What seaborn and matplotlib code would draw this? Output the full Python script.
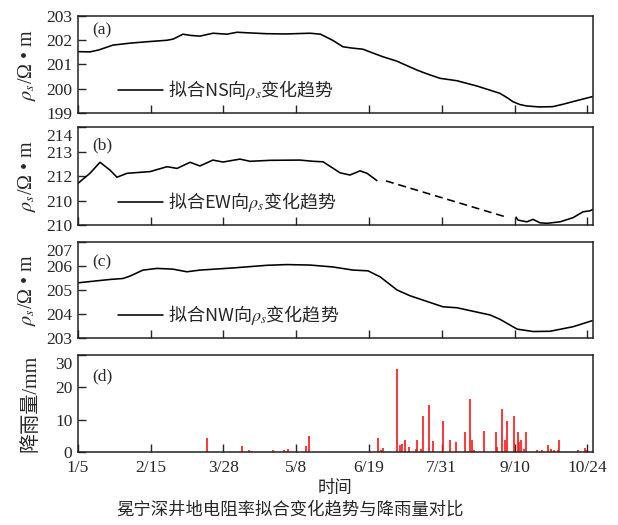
import matplotlib
matplotlib.use("Agg")
import matplotlib.pyplot as plt
from matplotlib.font_manager import FontProperties
from matplotlib.transforms import ScaledTranslation
import seaborn as sns

# x = days counted from 1/5; the figure spaces its date ticks 42 days apart
tick_days = [0, 42, 84, 126, 168, 210, 252, 294]
tick_labels = ["1/5", "2/15", "3/28", "5/8", "6/19", "7/31", "9/10", "10/24"]

# (a) NS
ns_days = [0, 6.9, 12, 20.2, 30, 40, 51.4, 55, 60.6, 65, 70.4, 77.9, 86, 91.8, 100, 109,
           120, 134, 140, 147, 153, 158, 164.5, 170, 176, 184, 190, 195.7, 202, 209,
           218.8, 230.4, 243.6, 248, 251, 255, 259, 266, 274, 280, 285.8, 297.3]
ns_vals = [201.53, 201.52, 201.6, 201.8, 201.88, 201.94, 202.0, 202.05, 202.25, 202.2,
           202.17, 202.29, 202.25, 202.33, 202.3, 202.27, 202.26, 202.29, 202.25, 202.0,
           201.73, 201.68, 201.63, 201.48, 201.32, 201.14, 200.95, 200.77, 200.6, 200.43,
           200.33, 200.11, 199.81, 199.62, 199.47, 199.35, 199.29, 199.25, 199.26, 199.36,
           199.47, 199.68]

# (b) EW, two measured stretches joined by a dashed gap
ew1_days = [0, 6.9, 12.7, 18.5, 22.5, 28.3, 41.6, 51.4, 57.2, 64.7, 70.4, 77.9, 83.7,
            93.5, 99.3, 110.9, 128.2, 135.7, 141.5, 151.3, 157, 162.8, 166.9, 172.6]
ew1_vals = [211.70, 212.11, 212.56, 212.24, 211.95, 212.11, 212.18, 212.38, 212.31,
            212.56, 212.41, 212.65, 212.57, 212.69, 212.6, 212.64, 212.65, 212.6, 212.58,
            212.13, 212.04, 212.21, 212.11, 211.81]
ew_gap_days = [177.8, 246.5]
ew_gap_vals = [211.8, 210.34]
ew2_days = [252.9, 254, 259.2, 262.7, 266.7, 270.8, 278.3, 285.8, 291.6, 295.6, 297.3]
ew2_vals = [210.32, 210.2, 210.13, 210.23, 210.09, 210.07, 210.13, 210.30, 210.54,
            210.58, 210.64]
ew_ticks = [210, 211, 212, 213, 214]
ew_tick_labels = ["210", "210", "212", "213", "214"]

# (c) NW
nw_days = [0, 18.5, 26, 30, 37.5, 45.6, 54.8, 62.9, 70.4, 89.5, 109.1, 120.7, 134,
           147.2, 158.8, 167.4, 174.4, 184.2, 191.7, 210.7, 218.8, 237.9, 243.6, 253.5,
           262.7, 272.5, 285.8, 296.8]
nw_vals = [205.30, 205.44, 205.48, 205.58, 205.83, 205.90, 205.87, 205.76, 205.83,
           205.92, 206.03, 206.06, 206.04, 205.96, 205.83, 205.80, 205.55, 205.0, 204.76,
           204.30, 204.26, 203.96, 203.78, 203.37, 203.27, 203.28, 203.47, 203.72]

# (d) rainfall, mm
rain_days = [74.7, 94.7, 98.7, 100.6, 112.4, 119.1, 121.1, 131.6, 133.2, 173.2, 174.8,
             175.9, 184.2, 185.7, 187.2, 188.8, 191.1, 195.0, 195.9, 198.0, 199.0, 202.5,
             205.0, 210.6, 214.6, 218.2, 223.3, 226.5, 227.3, 228.6, 234.4, 241.2, 241.7,
             244.6, 246.5, 247.5, 251.7, 253.9, 254.6, 255.6, 257.7, 258.5, 265.0, 267.7,
             271.2, 273.1, 274.7, 277.0, 277.5, 288.5, 292.7, 293.3]
rain_mm = [4.2, 2.0, 0.6, 0.3, 0.6, 0.6, 1.0, 1.8, 5.0, 4.2, 0.6, 1.2, 25.6, 2.2, 2.4,
           3.6, 1.6, 1.0, 3.7, 0.8, 11.2, 14.6, 3.4, 9.6, 3.6, 3.0, 6.3, 16.4, 3.7, 0.6,
           6.6, 6.1, 1.6, 13.2, 3.7, 9.7, 11.0, 6.3, 3.0, 3.7, 1.0, 6.1, 0.6, 0.6, 2.1,
           0.8, 0.5, 0.5, 3.6, 0.5, 1.2, 0.6]

sns.set_style("ticks")
plt.rcParams["font.family"] = ["Liberation Serif", "Noto Sans CJK SC"]
plt.rcParams["mathtext.fontset"] = "stix"
plt.rcParams["axes.edgecolor"] = "#222222"
plt.rcParams["axes.linewidth"] = 1.1

FS = 12.5
LAB_FS = 14.5
leg_font = FontProperties(family="Noto Sans CJK SC", size=13)
rho_label = r"$\rho_s$/Ω • m"

fig = plt.figure(figsize=(6.18, 5.25), dpi=100)
rects = [
    [0.1262, 0.7848, 0.8333, 0.1847],
    [0.1262, 0.5714, 0.8333, 0.1867],
    [0.1262, 0.3562, 0.8333, 0.1828],
    [0.1262, 0.1390, 0.8333, 0.1848],
]
axes = [fig.add_axes(r) for r in rects]
ax_a, ax_b, ax_c, ax_d = axes

sns.lineplot(x=ns_days, y=ns_vals, ax=ax_a, color="black", lw=1.15,
             label=r"拟合NS向$\rho_s$变化趋势")
ax_a.set_ylim(199, 203)
ax_a.set_yticks([199, 200, 201, 202, 203])

sns.lineplot(x=ew1_days, y=ew1_vals, ax=ax_b, color="black", lw=1.15,
             label=r"拟合EW向$\rho_s$变化趋势")
sns.lineplot(x=ew_gap_days, y=ew_gap_vals, ax=ax_b, color="black", lw=1.15,
             linestyle=(0, (5, 3)))
sns.lineplot(x=ew2_days, y=ew2_vals, ax=ax_b, color="black", lw=1.15)
ax_b.set_ylim(210, 214)
ax_b.set_yticks(ew_ticks)
ax_b.set_yticklabels(ew_tick_labels)

sns.lineplot(x=nw_days, y=nw_vals, ax=ax_c, color="black", lw=1.15,
             label=r"拟合NW向$\rho_s$变化趋势")
ax_c.set_ylim(203, 207)
ax_c.set_yticks([203, 204, 205, 206, 207])

ax_d.bar(rain_days, rain_mm, width=1.2, color="#ff1a1a", alpha=0.85, linewidth=0)
ax_d.set_ylim(0, 30)
ax_d.set_yticks([0, 10, 20, 30])

panel_y = [0.85, 0.816, 0.784, 0.776]
for ax, tag, py in zip(axes, ["(a)", "(b)", "(c)", "(d)"], panel_y):
    ax.set_xlim(0, 297.3)
    ax.set_xticks(tick_days)
    ax.tick_params(direction="in", length=6, width=1, labelsize=FS, pad=4,
                   top=False, right=False)
    ax.text(0.027, py, tag, transform=ax.transAxes, ha="left", va="center", fontsize=FS)
    for s in ax.spines.values():
        s.set_visible(True)
    if ax is not ax_d:
        ax.set_xticklabels([])
        ax.set_ylabel(rho_label, fontsize=LAB_FS)
        ax.yaxis.set_label_coords(-0.078, 0.5)
        ax.legend(loc="center left", bbox_to_anchor=(0.063, 0.235), borderaxespad=0,
                  frameon=False, handlelength=2.5, handletextpad=0.3, prop=leg_font)

# the top label of the lower panels sits a little below its tick, as in the source
for ax in (ax_b, ax_c, ax_d):
    top = ax.get_yticklabels()[-1]
    top.set_transform(top.get_transform() + ScaledTranslation(0, -6 / 72, fig.dpi_scale_trans))

ax_d.set_xticklabels(tick_labels)
ax_d.tick_params(axis="x", pad=6)
ax_d.set_ylabel("降雨量/mm", fontsize=LAB_FS)
ax_d.yaxis.set_label_coords(-0.072, 0.5)
ax_d.set_xlabel("时间", fontsize=FS, labelpad=3)

fig.text(0.47, 0.028, "冕宁深井地电阻率拟合变化趋势与降雨量对比", ha="center", va="center",
         fontsize=FS)

fig.savefig("out.png", dpi=100)
